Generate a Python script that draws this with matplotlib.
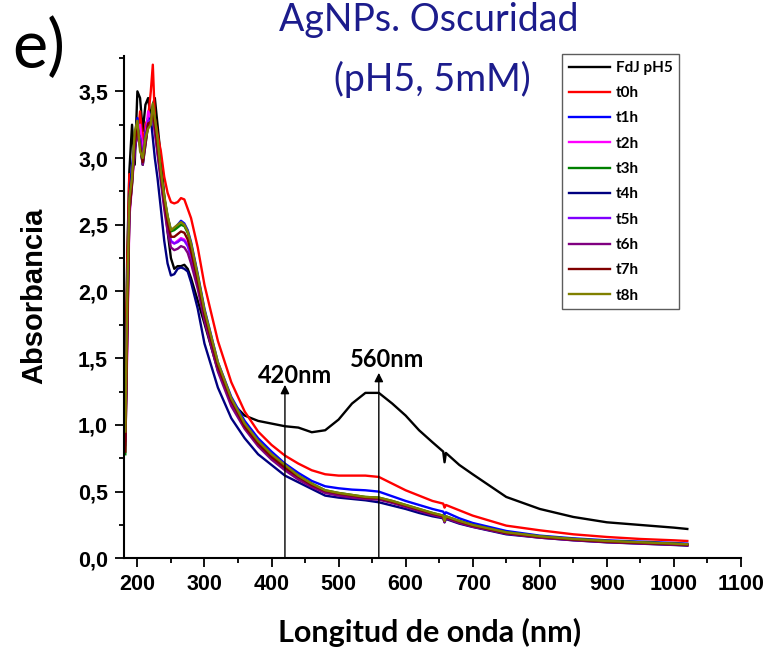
import matplotlib
matplotlib.use("Agg")
import matplotlib.pyplot as plt
from matplotlib.ticker import MultipleLocator, FuncFormatter

# longitudes de onda (nm) comunes a todas las series
wl = [182, 185, 188, 192, 196, 200, 204, 208, 212, 216, 220, 223, 226, 230, 235,
      240, 245, 250, 255, 260, 265, 270, 275, 280, 290, 300, 320, 340, 360, 380,
      400, 420, 440, 460, 480, 500, 520, 540, 560, 580, 600, 620, 640, 656, 658,
      660, 680, 700, 750, 800, 850, 900, 950, 1000, 1020]

fdj = [1.40, 2.30, 2.90, 3.25, 2.95, 3.50, 3.45, 3.20, 3.40, 3.45, 3.30, 3.40, 3.45, 3.25, 3.00,
       2.72, 2.45, 2.25, 2.17, 2.19, 2.19, 2.20, 2.17, 2.10, 1.93, 1.76, 1.41, 1.17, 1.07, 1.03,
       1.01, 0.99, 0.98, 0.945, 0.96, 1.04, 1.16, 1.24, 1.24, 1.16, 1.07, 0.96, 0.87, 0.80, 0.72,
       0.79, 0.70, 0.63, 0.46, 0.37, 0.31, 0.27, 0.25, 0.23, 0.22]
t0h = [1.20, 2.20, 2.88, 2.85, 3.10, 3.15, 3.35, 3.10, 3.25, 3.30, 3.50, 3.70, 3.30, 3.18, 3.05,
       2.86, 2.74, 2.67, 2.66, 2.67, 2.70, 2.69, 2.62, 2.55, 2.33, 2.05, 1.63, 1.32, 1.10, 0.95,
       0.85, 0.77, 0.71, 0.66, 0.63, 0.62, 0.62, 0.62, 0.61, 0.56, 0.51, 0.47, 0.43, 0.41, 0.38,
       0.40, 0.36, 0.32, 0.245, 0.21, 0.18, 0.16, 0.145, 0.135, 0.13]
t1h = [0.95, 1.95, 2.65, 2.95, 3.10, 3.30, 3.10, 2.95, 3.20, 3.30, 3.30, 3.38, 3.25, 3.10, 2.88,
       2.70, 2.56, 2.46, 2.47, 2.50, 2.53, 2.51, 2.46, 2.37, 2.13, 1.87, 1.47, 1.21, 1.03, 0.90,
       0.80, 0.71, 0.64, 0.58, 0.54, 0.525, 0.515, 0.51, 0.50, 0.465, 0.43, 0.40, 0.37, 0.35, 0.33,
       0.345, 0.30, 0.265, 0.205, 0.17, 0.15, 0.135, 0.125, 0.115, 0.11]
t2h = [0.85, 1.60, 2.55, 2.80, 3.05, 3.20, 3.25, 3.05, 3.15, 3.35, 3.30, 3.30, 3.20, 3.05, 2.85,
       2.65, 2.47, 2.37, 2.36, 2.38, 2.40, 2.39, 2.35, 2.27, 2.07, 1.82, 1.43, 1.17, 0.99, 0.86,
       0.76, 0.68, 0.61, 0.55, 0.505, 0.485, 0.47, 0.455, 0.45, 0.425, 0.395, 0.365, 0.335, 0.315, 0.28,
       0.31, 0.275, 0.245, 0.19, 0.16, 0.14, 0.125, 0.115, 0.105, 0.10]
t3h = [0.78, 1.80, 2.60, 2.80, 3.15, 3.25, 3.10, 2.95, 3.10, 3.25, 3.25, 3.38, 3.28, 3.12, 2.90,
       2.71, 2.56, 2.45, 2.46, 2.48, 2.50, 2.49, 2.44, 2.35, 2.11, 1.85, 1.45, 1.19, 1.00, 0.87,
       0.77, 0.69, 0.62, 0.56, 0.51, 0.49, 0.475, 0.46, 0.455, 0.43, 0.40, 0.37, 0.34, 0.32, 0.28,
       0.315, 0.28, 0.25, 0.195, 0.165, 0.145, 0.13, 0.12, 0.11, 0.105]
t4h = [0.90, 1.90, 2.70, 2.90, 3.05, 3.20, 3.15, 3.00, 3.15, 3.25, 3.30, 3.15, 3.00, 2.85, 2.62,
       2.38, 2.21, 2.12, 2.13, 2.17, 2.18, 2.17, 2.15, 2.07, 1.87, 1.61, 1.28, 1.05, 0.90, 0.78,
       0.70, 0.62, 0.57, 0.52, 0.47, 0.455, 0.445, 0.435, 0.42, 0.395, 0.37, 0.34, 0.315, 0.30, 0.27,
       0.295, 0.26, 0.235, 0.18, 0.155, 0.135, 0.12, 0.11, 0.10, 0.095]
t5h = [0.90, 1.85, 2.62, 2.85, 3.10, 3.22, 3.15, 2.98, 3.12, 3.28, 3.28, 3.35, 3.22, 3.06, 2.86,
       2.66, 2.49, 2.38, 2.36, 2.37, 2.39, 2.38, 2.34, 2.26, 2.06, 1.81, 1.42, 1.16, 0.98, 0.85,
       0.75, 0.67, 0.60, 0.545, 0.50, 0.48, 0.465, 0.45, 0.445, 0.42, 0.39, 0.36, 0.33, 0.31, 0.275,
       0.305, 0.27, 0.24, 0.188, 0.158, 0.138, 0.123, 0.113, 0.104, 0.10]
t6h = [0.88, 1.75, 2.58, 2.82, 3.08, 3.18, 3.12, 2.95, 3.10, 3.25, 3.26, 3.32, 3.20, 3.03, 2.82,
       2.62, 2.45, 2.33, 2.31, 2.32, 2.34, 2.33, 2.29, 2.21, 2.02, 1.78, 1.40, 1.14, 0.97, 0.84,
       0.74, 0.66, 0.59, 0.535, 0.49, 0.47, 0.455, 0.445, 0.44, 0.415, 0.385, 0.355, 0.325, 0.305, 0.27,
       0.30, 0.265, 0.237, 0.185, 0.155, 0.136, 0.121, 0.111, 0.102, 0.098]
t7h = [0.80, 1.70, 2.60, 2.82, 3.12, 3.24, 3.08, 2.97, 3.12, 3.26, 3.27, 3.36, 3.25, 3.09, 2.88,
       2.68, 2.52, 2.41, 2.41, 2.43, 2.45, 2.44, 2.39, 2.30, 2.08, 1.83, 1.44, 1.18, 0.99, 0.86,
       0.76, 0.68, 0.61, 0.55, 0.505, 0.485, 0.47, 0.455, 0.45, 0.425, 0.395, 0.365, 0.335, 0.315, 0.28,
       0.31, 0.275, 0.245, 0.19, 0.16, 0.14, 0.125, 0.115, 0.106, 0.10]
t8h = [0.95, 2.00, 2.70, 2.85, 3.20, 3.28, 3.05, 3.00, 3.15, 3.22, 3.25, 3.41, 3.30, 3.15, 2.90,
       2.72, 2.57, 2.46, 2.48, 2.50, 2.52, 2.50, 2.45, 2.36, 2.12, 1.86, 1.47, 1.20, 1.01, 0.88,
       0.78, 0.70, 0.62, 0.56, 0.51, 0.49, 0.475, 0.46, 0.455, 0.43, 0.40, 0.37, 0.34, 0.32, 0.28,
       0.315, 0.28, 0.25, 0.195, 0.165, 0.145, 0.13, 0.12, 0.11, 0.105]

labels = ['FdJ pH5', 't0h', 't1h', 't2h', 't3h', 't4h', 't5h', 't6h', 't7h', 't8h']
series = [fdj, t0h, t1h, t2h, t3h, t4h, t5h, t6h, t7h, t8h]
colors = ['#000000', '#ff0000', '#0000ff', '#ff00ff', '#008000',
          '#000080', '#8000ff', '#800080', '#800000', '#808000']

peaks = [420, 560]

fig = plt.figure(figsize=(7.72, 6.55), dpi=100)
ax = fig.add_axes([0.1606, 0.1476, 0.7992, 0.7669])

for y, lab, c in zip(series, labels, colors):
    ax.plot(wl, y, color=c, lw=1.7, label=lab)

ax.set_xlim(180, 1100)
ax.set_ylim(0, 3.765)
ax.spines['top'].set_visible(False)
ax.spines['right'].set_visible(False)
for s in ['left', 'bottom']:
    ax.spines[s].set_linewidth(1.5)

ax.xaxis.set_major_locator(MultipleLocator(100))
ax.xaxis.set_minor_locator(MultipleLocator(50))
ax.yaxis.set_major_locator(MultipleLocator(0.5))
ax.yaxis.set_minor_locator(MultipleLocator(0.25))
ax.yaxis.set_major_formatter(FuncFormatter(lambda v, p: f"{v:.1f}".replace('.', ',')))
ax.tick_params(which='major', direction='out', length=6.5, width=1.3, pad=5)
ax.tick_params(which='minor', direction='out', length=3.5, width=1.3)
for lab in ax.get_xticklabels() + ax.get_yticklabels():
    lab.set_fontfamily('Liberation Sans')
    lab.set_fontweight('bold')
    lab.set_fontsize(15.5)

# flechas de los picos
lab_pos = {420: (435, 1.37), 560: (572, 1.49)}
arrow_top = {420: 1.30, 560: 1.39}
for p in peaks:
    ax.annotate('', xy=(p, arrow_top[p]), xytext=(p, 0),
                arrowprops=dict(arrowstyle='-|>', color='k', lw=1.0,
                                mutation_scale=13, shrinkA=0, shrinkB=0))
    ax.text(*lab_pos[p], f"{p}nm", ha='center', va='center',
            family='Lato', fontweight='bold', fontsize=17)

leg = ax.legend(loc='upper left', bbox_to_anchor=(0.71, 1.004), frameon=True,
                fancybox=False, edgecolor='#333333', handlelength=2.7,
                handletextpad=0.35, labelspacing=0.74, borderpad=0.45,
                borderaxespad=0, prop={'family': 'Lato', 'weight': 'bold', 'size': 11})
leg.get_frame().set_linewidth(1.0)

fig.text(0.045, 0.548, 'Absorbancia', rotation=90, ha='center', va='center',
         family='Liberation Sans', fontweight='bold', fontsize=21)
fig.text(0.557, 0.034, 'Longitud de onda (nm)', ha='center', va='center',
         family='Lato', fontweight='bold', fontsize=22)

fig.text(0.556, 0.969, 'AgNPs. Oscuridad', ha='center', va='center',
         family='Lato', fontsize=27, color='#1c1c8c')
fig.text(0.560, 0.879, '(pH5, 5mM)', ha='center', va='center',
         family='Lato', fontsize=27, color='#1c1c8c')
fig.text(0.050, 0.925, 'e)', ha='center', va='center', family='Lato', fontsize=48)

fig.savefig('out.png', dpi=100)
